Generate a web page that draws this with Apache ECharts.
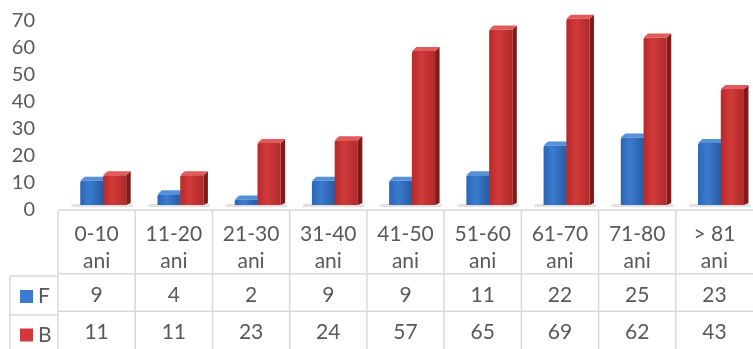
<!DOCTYPE html>
<html>
<head>
<meta charset="utf-8">
<script src="https://cdn.jsdelivr.net/npm/echarts@6/dist/echarts.min.js"></script>
<style>
  html, body { margin: 0; padding: 0; background: #fff; }
  #chart { width: 753px; height: 349px; }
</style>
</head>
<body>
<div id="chart"></div>
<script>
  // age groups (two-line labels as in the data table)
  var categories = ['0-10\nani', '11-20\nani', '21-30\nani', '31-40\nani', '41-50\nani',
    '51-60\nani', '61-70\nani', '71-80\nani', '> 81\nani']
  var valuesF = [9, 4, 2, 9, 9, 11, 22, 25, 23]
  var valuesB = [11, 11, 23, 24, 57, 65, 69, 62, 43]
  var yMin = 0
  var yMax = 70
  var yStep = 10

  var textColor = '#595959'
  var lineColor = '#d9d9d9'
  var font = 'Lato, "Noto Sans", sans-serif'

  var blue = { left: '#2c66b5', mid: '#3a7bcf', right: '#285aa2', side: '#1d4a87', top: '#5591d8' }
  var red = { left: '#b72a2a', mid: '#d23a3a', right: '#b02a2a', side: '#821a1a', top: '#e25b5b' }

  function barRenderer(isLeft, pal) {
    return function (params, api) {
      var i = api.value(0)
      var v = api.value(1)
      var c = api.coord([i, v])
      var base = api.coord([i, 0])
      var band = api.size([1, 0])[0]
      var w = band * 0.3
      var x = isLeft ? c[0] - band * 0.212 : c[0] + band * 0.083
      var lift = 5
      var top = c[1] - lift
      var bottom = base[1] - lift
      var dx = 4.5
      var dy = 4
      var children = []
      if (isLeft) {
        // soft floor shadow under the pair of columns
        children.push({
          type: 'rect',
          shape: { x: c[0] - band * 0.33, y: bottom - 1, width: band * 0.8, height: 3, r: 2 },
          style: { fill: 'rgba(0,0,0,0.10)', shadowBlur: 5, shadowColor: 'rgba(0,0,0,0.35)' }
        })
      }
      children.push({
        type: 'polygon',
        shape: { points: [[x + w, top], [x + w + dx, top - dy], [x + w + dx, bottom - dy + 2], [x + w, bottom]] },
        style: { fill: pal.side }
      })
      children.push({
        type: 'polygon',
        shape: { points: [[x, top], [x + dx, top - dy], [x + w + dx, top - dy], [x + w, top]] },
        style: { fill: pal.top }
      })
      children.push({
        type: 'rect',
        shape: { x: x, y: top, width: w, height: bottom - top, r: [2, 1, 0, 0] },
        style: {
          fill: new echarts.graphic.LinearGradient(0, 0, 1, 0, [
            { offset: 0, color: pal.left },
            { offset: 0.4, color: pal.mid },
            { offset: 1, color: pal.right }
          ])
        }
      })
      return { type: 'group', children: children }
    }
  }

  // data table under the plot, one column per category
  function tableRenderer(params, api) {
    var i = api.value(0)
    var band = api.size([1, 0])[0]
    var cx = api.coord([i, 0])[0]
    var x0 = cx - band / 2
    var y = function (r) { return api.coord([i, r])[1] }
    var children = []
    var rows = [0, 66, 105]
    rows.forEach(function (r) {
      children.push({
        type: 'line',
        shape: { x1: x0, y1: y(r), x2: x0 + band, y2: y(r) },
        style: { stroke: lineColor, lineWidth: 1.5 }
      })
    })
    children.push({
      type: 'line',
      shape: { x1: x0, y1: y(0), x2: x0, y2: y(144) },
      style: { stroke: lineColor, lineWidth: 1.5 }
    })
    var cells = [[categories[i], 39.5], [String(valuesF[i]), 88.5], [String(valuesB[i]), 127]]
    cells.forEach(function (cell) {
      children.push({
        type: 'text',
        style: {
          text: cell[0], x: cx, y: y(cell[1]),
          align: 'center', verticalAlign: 'middle',
          font: '21px ' + font, lineHeight: 27, fill: textColor
        }
      })
    })
    return { type: 'group', children: children }
  }

  function legendFor(name, color, top) {
    return {
      data: [{ name: name, itemStyle: { color: color } }],
      orient: 'horizontal',
      left: 20,
      top: top,
      padding: 0,
      icon: 'rect',
      itemWidth: 13,
      itemHeight: 13,
      selectedMode: false,
      textStyle: { fontSize: 21, fontFamily: font, color: textColor }
    }
  }

  var chart = echarts.init(document.getElementById('chart'))
  chart.setOption({
    animation: false,
    backgroundColor: '#fff',
    grid: [
      { left: 58, top: 21, width: 701, height: 189 },
      { left: 58, top: 210, width: 701, height: 144 }
    ],
    legend: [
      legendFor('F', blue.mid, 286),
      legendFor('B', red.mid, 324.5)
    ],
    xAxis: [
      { type: 'category', gridIndex: 0, data: categories, axisLine: { show: false }, axisTick: { show: false }, axisLabel: { show: false } },
      { type: 'category', gridIndex: 1, data: categories, show: false }
    ],
    yAxis: [
      {
        type: 'value', gridIndex: 0, min: yMin, max: yMax, interval: yStep,
        axisLine: { show: false }, axisTick: { show: false }, splitLine: { show: false },
        axisLabel: { fontSize: 20, fontFamily: font, color: textColor, margin: 23 }
      },
      { type: 'value', gridIndex: 1, min: 0, max: 144, inverse: true, show: false }
    ],
    graphic: [
      { type: 'line', shape: { x1: 10, y1: 276, x2: 58, y2: 276 }, style: { stroke: lineColor, lineWidth: 1.5 } },
      { type: 'line', shape: { x1: 10, y1: 315, x2: 58, y2: 315 }, style: { stroke: lineColor, lineWidth: 1.5 } },
      { type: 'line', shape: { x1: 10, y1: 276, x2: 10, y2: 354 }, style: { stroke: lineColor, lineWidth: 1.5 } }
    ],
    series: [
      {
        name: 'F', type: 'custom', xAxisIndex: 0, yAxisIndex: 0,
        itemStyle: { color: blue.mid },
        renderItem: barRenderer(true, blue),
        encode: { x: 0, y: 1 },
        data: valuesF.map(function (v, i) { return [i, v] })
      },
      {
        name: 'B', type: 'custom', xAxisIndex: 0, yAxisIndex: 0,
        itemStyle: { color: red.mid },
        renderItem: barRenderer(false, red),
        encode: { x: 0, y: 1 },
        data: valuesB.map(function (v, i) { return [i, v] })
      },
      {
        name: 'table', type: 'custom', xAxisIndex: 1, yAxisIndex: 1,
        renderItem: tableRenderer,
        encode: { x: 0, y: 1 },
        data: categories.map(function (c, i) { return [i, 0] })
      }
    ]
  })
</script>
</body>
</html>
